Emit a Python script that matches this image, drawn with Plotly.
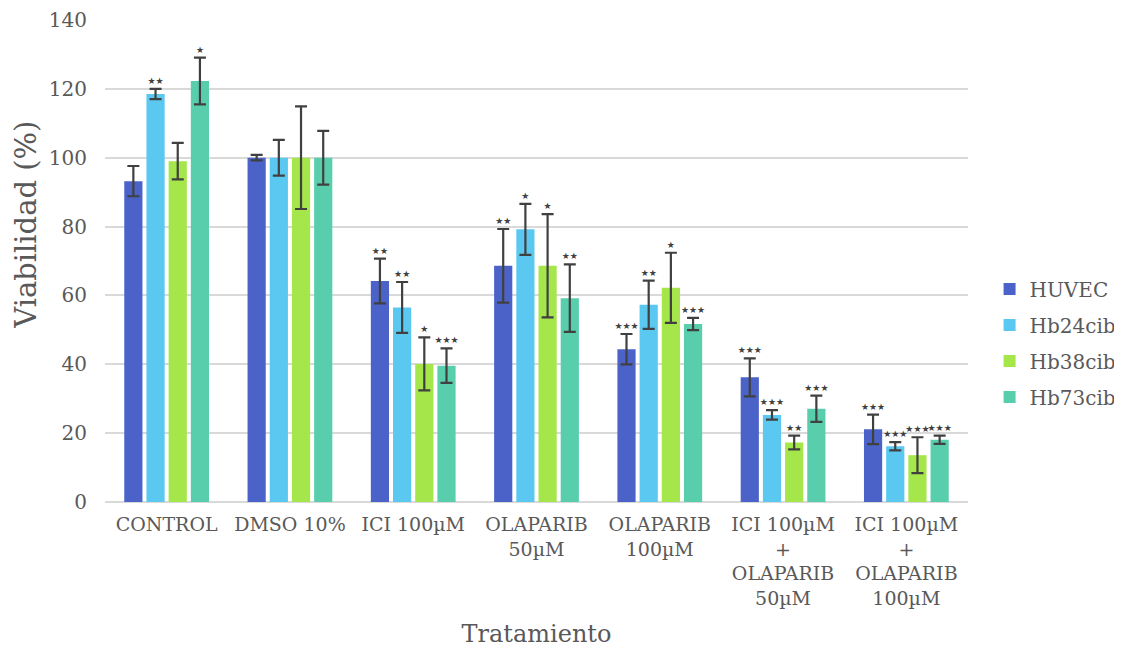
import plotly.graph_objects as go

categories = ["CONTROL", "DMSO 10%", "ICI 100µM", "OLAPARIB<br>50µM", "OLAPARIB<br>100µM",
              "ICI 100µM<br>+<br>OLAPARIB<br>50µM", "ICI 100µM<br>+<br>OLAPARIB<br>100µM"]
series_names = ["HUVEC", "Hb24cib", "Hb38cib", "Hb73cib"]

huvec = [93.2, 100.0, 64.2, 68.6, 44.4, 36.2, 21.1]
hb24 = [118.5, 100.0, 56.5, 79.2, 57.3, 25.3, 16.2]
hb38 = [99.0, 100.0, 40.1, 68.6, 62.2, 17.3, 13.6]
hb73 = [122.3, 100.0, 39.6, 59.2, 51.7, 27.1, 18.1]

huvec_err = [4.4, 0.8, 6.5, 10.7, 4.4, 5.5, 4.3]
hb24_err = [1.5, 5.2, 7.4, 7.4, 7.0, 1.4, 1.2]
hb38_err = [5.3, 14.9, 7.7, 15.0, 10.2, 2.0, 5.2]
hb73_err = [6.8, 7.8, 5.0, 9.8, 1.8, 3.8, 1.2]

huvec_sig = ["", "", "**", "**", "***", "***", "***"]
hb24_sig = ["**", "", "**", "*", "**", "***", "***"]
hb38_sig = ["", "", "*", "*", "*", "**", "***"]
hb73_sig = ["*", "", "***", "**", "***", "***", "***"]

colors = ["#4B63C9", "#5AC8F0", "#A5E64B", "#58CEAD"]

values = [huvec, hb24, hb38, hb73]
errors = [huvec_err, hb24_err, hb38_err, hb73_err]
sigs = [huvec_sig, hb24_sig, hb38_sig, hb73_sig]

FONT = "DejaVu Serif, serif"
GREY = "#595959"
STAR_FONT = dict(family="DejaVu Sans, sans-serif", size=9, color="#404040")

fig = go.Figure()
for i, name in enumerate(series_names):
    fig.add_trace(go.Bar(
        x=categories, y=values[i], name=name, marker_color=colors[i], marker_line_width=0,
        offsetgroup=str(i), legendgroup=name,
        error_y=dict(type="data", array=errors[i], color="#404040", thickness=2.2, width=6),
    ))
for i, name in enumerate(series_names):
    tops = [v + e for v, e in zip(values[i], errors[i])]
    fig.add_trace(go.Bar(
        x=categories, y=tops, name=name + " sig", offsetgroup=str(i),
        marker_color="rgba(0,0,0,0)", marker_line_width=0, showlegend=False, hoverinfo="skip",
        text=[s.replace("*", "★") for s in sigs[i]], textposition="outside", cliponaxis=False,
        constraintext="none", textfont=STAR_FONT, outsidetextfont=STAR_FONT,
    ))

# page has an 8px body margin, so the figure is 8px smaller than the window
fig.update_layout(
    width=1114, height=640,
    barmode="group", bargap=0.28, bargroupgap=0.18,
    plot_bgcolor="white", paper_bgcolor="white",
    margin=dict(l=97, r=154, t=12, b=146, autoexpand=False),
    font=dict(family=FONT, color=GREY, size=19),
    legend=dict(x=1.025, y=0.33, xanchor="left", yanchor="middle",
                font=dict(size=20, family=FONT, color=GREY),
                traceorder="grouped", itemwidth=30, tracegroupgap=7),
    xaxis=dict(title=dict(text="Tratamiento", font=dict(size=24, family=FONT, color=GREY), standoff=21),
               tickfont=dict(size=19, family=FONT, color=GREY), showline=False, ticks="",
               automargin=False, ticklabelstandoff=9),
    yaxis=dict(range=[0, 140], dtick=20, gridcolor="#D9D9D9", gridwidth=1.5,
               zeroline=True, zerolinecolor="#D9D9D9", zerolinewidth=1.5,
               tickfont=dict(size=20, family=FONT, color=GREY), ticks="", showline=False,
               automargin=False, ticklabelstandoff=17),
    annotations=[dict(text="Viabilidad (%)", textangle=-90, xref="paper", yref="paper",
                      x=-0.0916, y=0.575, xanchor="center", yanchor="middle", showarrow=False,
                      font=dict(size=29, family=FONT, color=GREY))],
)

fig.write_html("out.html")
